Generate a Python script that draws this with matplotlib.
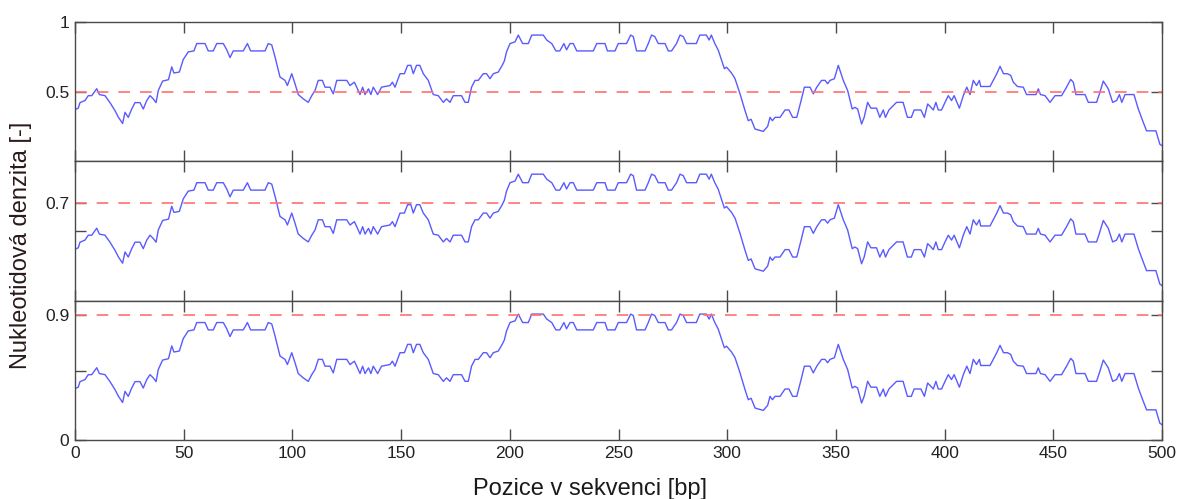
import matplotlib
matplotlib.use("Agg")
import matplotlib.pyplot as plt

plt.rcParams["font.family"] = ["Liberation Sans", "DejaVu Sans"]

# position in sequence [bp] and nucleotide density
pos = [0, 1.5, 2.3, 4.6, 6.1, 7.7, 10, 11.2, 13.8, 16.1, 18.4, 20, 21.9, 23, 24.5,
       26.1, 27.6, 29.9, 31.4, 33, 34.5, 36, 37.3, 38.3, 40.3, 43, 44.5, 45.5, 48,
       49.8, 52.1, 54.7, 56, 59.8, 61.3, 63.6, 65.2, 68.2, 69.8, 71.3, 72.8, 77.4,
       79.3, 80.8, 87.4, 88.9, 90.5, 92, 94.3, 96.6, 97.7, 99.7, 101.2, 102.7, 105,
       107.3, 108.9, 110.4, 111.9, 113.8, 115, 117.3, 118.8, 120.4, 125, 126.5,
       128.5, 129.6, 131.1, 132.3, 133.4, 135, 136.1, 137.2, 139.2, 141, 144.9, 146,
       147.2, 149.5, 151.5, 153, 154.5, 155.6, 157.1, 158.6, 160.2, 162.5, 164.8,
       167.1, 169.4, 170.9, 172.5, 174, 177.8, 179.4, 180.9, 182.4, 184, 185.5,
       187.8, 189.3, 190.9, 192.4, 194.7, 196.5, 197.5, 198.5, 200.1, 202.4, 203.9,
       205.9, 208.5, 210.1, 215.4, 217, 219.3, 221.2, 223, 224.9, 226.1, 227.7,
       229.2, 230.8, 238.4, 240, 243.8, 244.9, 248.4, 249.9, 253.7, 255.6, 256.8,
       258.3, 262.2, 263.7, 265.2, 266.7, 268.3, 271.4, 272.9, 274.4, 276.7, 278.3,
       279.8, 281.3, 285.8, 287.4, 290.4, 291.7, 292.7, 294.3, 295.9, 297.4, 298.7,
       299.7, 302, 303.6, 305.9, 308.2, 309.7, 311, 312.8, 316.6, 318.6, 319.7,
       320.8, 322, 324.3, 326.6, 328.4, 330.1, 332, 334, 335.5, 338.1, 339.6, 341.2,
       343.4, 345, 346.2, 347.3, 349.3, 351.1, 353.4, 355.4, 357.5, 358.7, 360,
       361.8, 363, 364.6, 366.1, 368.7, 370.2, 371.8, 372.8, 374.4, 377.9, 380.9,
       382.9, 384.7, 386, 389.1, 390.7, 392.2, 393.5, 394.8, 396, 397.1, 398.6,
       400.2, 401.7, 403.2, 404.4, 406.8, 408.6, 410.2, 411.7, 413.2, 414.7, 416,
       416.6, 420.9, 422.4, 424, 425.5, 427.1, 428.9, 430.4, 431.6, 433.5, 436.2,
       437.7, 442, 443.1, 444.1, 446.2, 448.5, 450.8, 453.8, 456.1, 458, 459.2,
       460.4, 464.6, 466.1, 469.9, 471.2, 473, 475.3, 477.3, 479.1, 480.4, 481.5,
       483, 487.1, 489.1, 491.1, 492.9, 497.2, 499, 500]
dens = [0.37, 0.38, 0.42, 0.435, 0.47, 0.47, 0.52, 0.478, 0.47, 0.42, 0.362, 0.314,
        0.27, 0.35, 0.314, 0.374, 0.42, 0.42, 0.374, 0.435, 0.47, 0.447, 0.42, 0.507,
        0.575, 0.585, 0.677, 0.633, 0.64, 0.73, 0.785, 0.792, 0.845, 0.845, 0.792,
        0.792, 0.845, 0.845, 0.80, 0.744, 0.792, 0.792, 0.845, 0.792, 0.792, 0.845,
        0.835, 0.749, 0.604, 0.58, 0.543, 0.628, 0.556, 0.478, 0.447, 0.422, 0.47,
        0.507, 0.58, 0.58, 0.531, 0.531, 0.483, 0.58, 0.58, 0.543, 0.567, 0.531,
        0.478, 0.531, 0.478, 0.519, 0.478, 0.531, 0.478, 0.531, 0.543, 0.567, 0.531,
        0.628, 0.628, 0.688, 0.688, 0.628, 0.688, 0.688, 0.628, 0.58, 0.478, 0.47,
        0.422, 0.447, 0.422, 0.47, 0.47, 0.422, 0.422, 0.531, 0.58, 0.58, 0.628,
        0.628, 0.592, 0.628, 0.64, 0.688, 0.72, 0.785, 0.845, 0.857, 0.906, 0.845,
        0.845, 0.906, 0.906, 0.87, 0.845, 0.792, 0.792, 0.845, 0.80, 0.845, 0.845,
        0.792, 0.792, 0.845, 0.845, 0.792, 0.792, 0.845, 0.845, 0.906, 0.895, 0.792,
        0.792, 0.845, 0.906, 0.895, 0.845, 0.845, 0.792, 0.792, 0.845, 0.906, 0.895,
        0.845, 0.845, 0.906, 0.906, 0.87, 0.906, 0.845, 0.797, 0.725, 0.664, 0.675,
        0.633, 0.592, 0.483, 0.362, 0.29, 0.30, 0.23, 0.213, 0.249, 0.314, 0.29,
        0.314, 0.314, 0.367, 0.367, 0.314, 0.314, 0.435, 0.531, 0.531, 0.483, 0.531,
        0.58, 0.58, 0.556, 0.58, 0.592, 0.688, 0.58, 0.507, 0.374, 0.386, 0.374,
        0.266, 0.314, 0.422, 0.38, 0.38, 0.314, 0.367, 0.314, 0.367, 0.422, 0.422,
        0.314, 0.314, 0.367, 0.367, 0.314, 0.41, 0.39, 0.367, 0.422, 0.367, 0.367,
        0.422, 0.47, 0.435, 0.47, 0.38, 0.47, 0.531, 0.478, 0.58, 0.543, 0.58,
        0.536, 0.536, 0.58, 0.628, 0.681, 0.628, 0.628, 0.616, 0.567, 0.536, 0.531,
        0.478, 0.478, 0.519, 0.478, 0.47, 0.422, 0.47, 0.47, 0.531, 0.587, 0.567,
        0.478, 0.478, 0.422, 0.422, 0.483, 0.575, 0.519, 0.422, 0.435, 0.478, 0.422,
        0.478, 0.478, 0.374, 0.29, 0.217, 0.217, 0.121, 0.11]

thresholds = [0.5, 0.7, 0.9]
ytick_pos = [[0.5, 1], [0.5, 0.7], [0, 0.5, 0.9]]
ytick_lbl = [["0.5", "1"], ["", "0.7"], ["0", "", "0.9"]]
xticks = [0, 50, 100, 150, 200, 250, 300, 350, 400, 450, 500]

W, H = 1179, 499
fig = plt.figure(figsize=(W / 100, H / 100), dpi=100)

# panel edges in pixels (top, bottom)
edges = [(22, 161), (161, 301), (301, 440)]
frame = "#4a4a4a"
for i, (top, bot) in enumerate(edges):
    ax = fig.add_axes([75 / W, (H - bot) / H, 1087 / W, (bot - top) / H])
    ax.plot(pos, dens, color="#5a5aff", linewidth=1.0)
    ax.axhline(thresholds[i], color="#ff7070", linewidth=1.2, linestyle=(0, (7, 6)))
    ax.set_xlim(0, 500)
    ax.set_ylim(0, 1)
    ax.set_xticks(xticks)
    ax.set_yticks(ytick_pos[i])
    ax.set_yticklabels(ytick_lbl[i])
    if i < 2:
        ax.set_xticklabels([])
    ax.tick_params(direction="in", length=8, width=1, color=frame, top=True,
                   right=True, labelsize=12.5, pad=4, labelcolor="#222222")
    for s in ax.spines.values():
        s.set_color(frame)
        s.set_linewidth(1.0)

fig.text(590 / W, 4 / H, "Pozice v sekvenci [bp]", ha="center", va="baseline",
         fontsize=17, color="#1a1a1a")
fig.text(21 / W, (H - 245) / H, "Nukleotidová denzita [-]", ha="center", va="center",
         rotation=90, fontsize=17, color="#2a1a1a")

fig.savefig("out.png", dpi=100)
